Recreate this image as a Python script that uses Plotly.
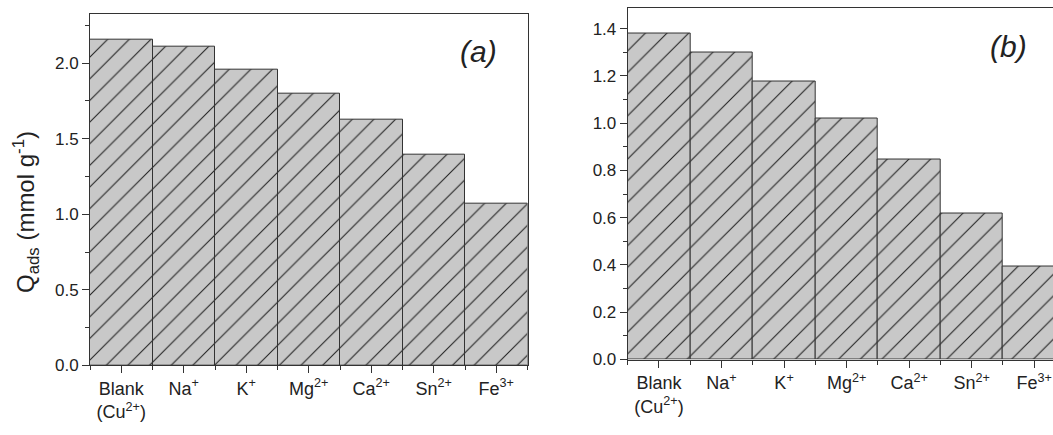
import plotly.graph_objects as go

# ---- data ----
categories = ["Blank<br>(Cu<sup>2+</sup>)", "Na<sup>+</sup>", "K<sup>+</sup>", "Mg<sup>2+</sup>",
              "Ca<sup>2+</sup>", "Sn<sup>2+</sup>", "Fe<sup>3+</sup>"]
values_a = [2.157, 2.108, 1.957, 1.797, 1.627, 1.394, 1.073]
values_b = [1.379, 1.298, 1.178, 1.018, 0.848, 0.619, 0.394]
positions = list(range(len(categories)))

W, H = 1053, 435
FILL = "#c8c8c8"
LINE = "#333333"
TXT = "#222222"
FONT = "Liberation Sans, Arial, sans-serif"

fig = go.Figure()

def add_bars(vals, xa, ya):
    fig.add_trace(go.Bar(
        x=positions, y=vals, xaxis=xa, yaxis=ya, width=1.0,
        marker=dict(color=FILL, line=dict(color=LINE, width=1),
                    pattern=dict(shape="/", fgcolor="#222222", bgcolor=FILL,
                                 size=15.3, solidity=0.07, fillmode="replace")),
        showlegend=False, hoverinfo="skip"))

add_bars(values_a, "x", "y")
add_bars(values_b, "x2", "y2")

def px_x(p):
    return p / W

def px_y(p):
    return 1 - p / H

xcommon = dict(
    tickmode="array", tickvals=positions, ticktext=categories,
    showline=True, linecolor=LINE, linewidth=1, mirror=True,
    ticks="outside", ticklen=7, tickcolor=LINE, tickwidth=1,
    showgrid=False, zeroline=False,
    tickfont=dict(family=FONT, size=18, color=TXT),
    minor=dict(ticks="outside", ticklen=4, tickcolor=LINE, tickmode="linear", tick0=0.5, dtick=1),
)
ycommon = dict(
    showline=True, linecolor=LINE, linewidth=1,
    ticks="outside", ticklen=7, tickcolor=LINE, tickwidth=1,
    showgrid=False, zeroline=False,
    tickfont=dict(family=FONT, size=17, color=TXT),
)

fig.update_layout(
    width=W, height=H,
    margin=dict(l=0, r=0, t=0, b=0),
    paper_bgcolor="white", plot_bgcolor="white",
    bargap=0,
    xaxis=dict(domain=[px_x(90), px_x(527.5)], range=[-0.5, 6.5], anchor="y", **xcommon),
    yaxis=dict(domain=[px_y(374), px_y(14)], range=[0, 2.327], anchor="x",
               mirror=True, dtick=0.5, tick0=0, tickformat=".1f",
               minor=dict(ticks="outside", ticklen=4, tickcolor=LINE, dtick=0.25),
               **ycommon),
    xaxis2=dict(domain=[px_x(627.7), 1.0], range=[-0.5, 6.3], anchor="y2", **xcommon),
    yaxis2=dict(domain=[px_y(368), px_y(7.7)], range=[0, 1.489], anchor="x2",
                mirror=False, dtick=0.2, tick0=0, tickformat=".1f",
                minor=dict(ticks="outside", ticklen=4, tickcolor=LINE, dtick=0.1),
                **ycommon),
    annotations=[
        dict(text="Q<sub>ads</sub> (mmol g<sup>-1</sup>)", textangle=-90,
             x=px_x(26), y=px_y(217), xref="paper", yref="paper", showarrow=False,
             xanchor="center", yanchor="middle",
             font=dict(family=FONT, size=24, color=TXT)),
        dict(text="<i>(a)</i>", x=px_x(478), y=px_y(53), xref="paper", yref="paper",
             showarrow=False, xanchor="center", yanchor="middle",
             font=dict(family=FONT, size=30, color=TXT)),
        dict(text="<i>(b)</i>", x=px_x(1008), y=px_y(48), xref="paper", yref="paper",
             showarrow=False, xanchor="center", yanchor="middle",
             font=dict(family=FONT, size=30, color=TXT)),
    ],
)

fig.write_html("out.html", config={"displayModeBar": False},
               post_script="document.body.style.margin='0px';")
